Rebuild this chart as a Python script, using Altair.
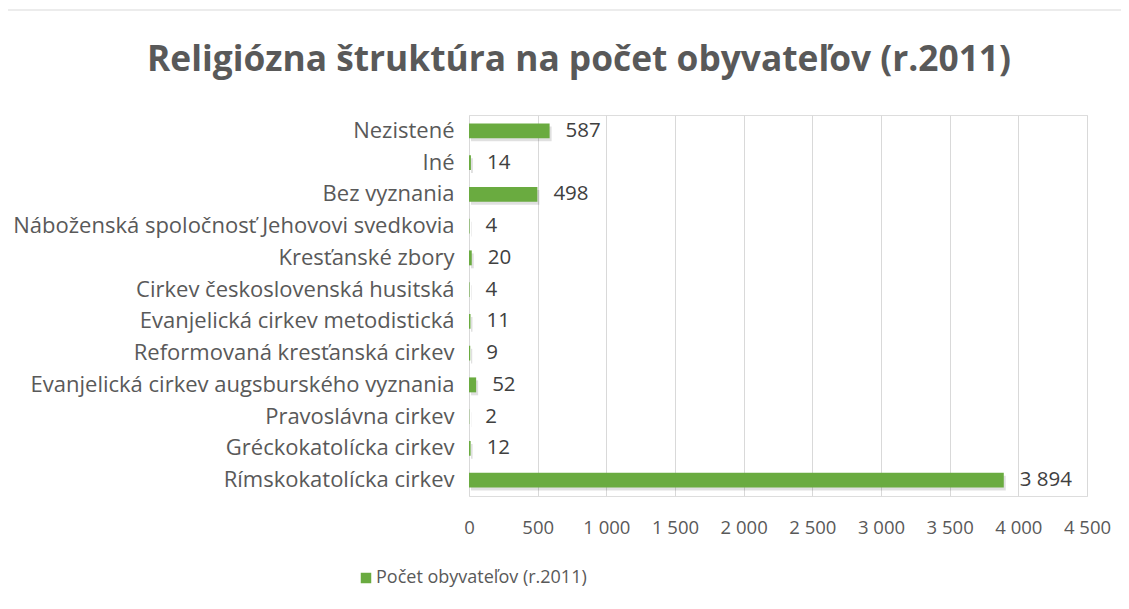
import altair as alt
import pandas as pd

categories = [
    "Nezistené",
    "Iné",
    "Bez vyznania",
    "Náboženská spoločnosť Jehovovi svedkovia",
    "Kresťanské zbory",
    "Cirkev československá husitská",
    "Evanjelická cirkev metodistická",
    "Reformovaná kresťanská cirkev",
    "Evanjelická cirkev augsburského vyznania",
    "Pravoslávna cirkev",
    "Gréckokatolícka cirkev",
    "Rímskokatolícka cirkev",
]
values = [587, 14, 498, 4, 20, 4, 11, 9, 52, 2, 12, 3894]
series_name = "Počet obyvateľov (r.2011)"
title_text = "Religiózna štruktúra na počet obyvateľov (r.2011)"
x_ticks = [0, 500, 1000, 1500, 2000, 2500, 3000, 3500, 4000, 4500]

df = pd.DataFrame({
    "cat": categories,
    "val": values,
    "lab": [f"{v:,}".replace(",", " ") for v in values],
    "series": [series_name] * len(values),
})

FONT = "Open Sans"
W, H = 618, 381

y_enc = alt.Y("cat:N", sort=categories, title=None,
              scale=alt.Scale(paddingInner=0.53, paddingOuter=0.265),
              axis=alt.Axis(labelFont=FONT, labelFontSize=22, labelColor="#595959",
                            labelPadding=15, ticks=False, domain=False, labelLimit=500))
x_enc = alt.X("val:Q", title=None,
              scale=alt.Scale(domain=[0, 4500], nice=False),
              axis=alt.Axis(values=x_ticks, labelFont=FONT, labelFontSize=18.5,
                            labelColor="#595959", labelPadding=22, ticks=False,
                            labelOverlap=False, labelFlush=False,
                            domain=False, grid=True, gridColor="#d9d9d9",
                            labelExpr="replace(format(datum.value, ','), ',', ' ')"))

shadow = alt.Chart(df).mark_bar(color="#000000", opacity=0.12, xOffset=2, yOffset=3,
                                y2Offset=3, x2Offset=2).encode(
    x="val:Q", y=alt.Y("cat:N", sort=categories)
)

bars = alt.Chart(df).mark_bar(
    color=alt.Gradient(gradient="linear",
                       stops=[alt.GradientStop(color="#7dbb55", offset=0),
                              alt.GradientStop(color="#62a337", offset=1)],
                       x1=0, x2=0, y1=0, y2=1)
).encode(
    x=x_enc, y=y_enc,
    color=alt.Color("series:N", scale=alt.Scale(range=["#6aab40"]), title=None,
                    legend=alt.Legend(orient="none", legendX=-112, legendY=454,
                                      symbolType="square", symbolSize=110,
                                      symbolStrokeWidth=0, symbolOffset=0,
                                      labelOffset=1,
                                      labelFont=FONT, labelFontSize=18,
                                      labelColor="#595959", labelLimit=400))
)

labels = alt.Chart(df).mark_text(align="left", baseline="middle", dx=16,
                                 font=FONT, fontSize=20.5, color="#404040").encode(
    x="val:Q", y=alt.Y("cat:N", sort=categories), text="lab:N"
)

title_df = pd.DataFrame({"t": [title_text]})
title = alt.Chart(title_df).mark_text(font=FONT, fontSize=35.3, fontWeight="bold",
                                      color="#595959", align="center",
                                      baseline="middle").encode(
    x=alt.value(110), y=alt.value(-55), text="t:N"
)

border = alt.Chart(title_df).mark_rule(color="#d9d9d9", strokeWidth=1).encode(
    x=alt.value(-461), x2=alt.value(652), y=alt.value(-105)
)

chart = alt.layer(border, shadow, bars, labels, title).properties(
    width=W, height=H,
    autosize=alt.AutoSizeParams(type="none"),
    padding={"left": 461, "top": 107, "right": 34, "bottom": 105},
).configure_view(stroke=None).configure(background="white")

chart.save("out.html", embed_options={"renderer": "svg", "actions": False})
